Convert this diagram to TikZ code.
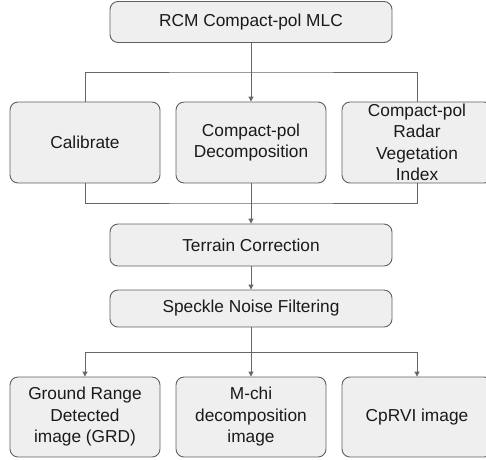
\documentclass[tikz,border=0pt]{standalone}
\usepackage{fontspec}
\setmainfont{Liberation Sans}
\usetikzlibrary{arrows.meta}
\definecolor{boxfill}{HTML}{EFEFEF}
\definecolor{boxline}{HTML}{5F5F5F}
\definecolor{conn}{HTML}{666666}
\definecolor{txt}{HTML}{1A1A1A}
\begin{document}
\begin{tikzpicture}[x=1pt,y=-1pt,
  box/.style={draw=boxline,fill=boxfill,line width=0.9pt,rounded corners=8pt,
    align=center,inner sep=0pt,text=txt,
    font=\fontsize{17.3}{21.5}\selectfont},
  wide/.style={box,minimum width=282pt},
  tall/.style={box,minimum width=150pt,minimum height=81pt},
  link/.style={draw=conn,line width=1pt},
  arr/.style={link,-{Triangle[length=5pt,width=5pt]}}]
\clip (0,0) rectangle (486,459);
\useasboundingbox (0,0) rectangle (486,459);

\node[wide,minimum height=41pt] (top) at (251,22) {RCM Compact-pol MLC};

\node[tall] (cal) at (85,142.5) {Calibrate};
\node[tall] (dec) at (251,142.5) {Compact-pol\\Decomposition};
\node[tall] (rvi) at (417,142.5) {\fontsize{17.3}{17.6}\selectfont Compact-pol\\Radar\\Vegetation\\Index};

\node[wide,minimum height=42pt] (ter) at (251,245) {Terrain Correction};
\node[wide,minimum height=37pt] (spk) at (251,308.5) {Speckle Noise Filtering};

\node[tall,minimum height=80pt] (grd) at (85,417) {Ground Range\\Detected\\image (GRD)};
\node[tall,minimum height=80pt] (mchi) at (251,417) {M-chi\\decomposition\\image};
\node[tall,minimum height=80pt] (cpr) at (417,417) {CpRVI image};

\coordinate (s1) at (251,72);
\coordinate (j1) at (251,203);
\coordinate (s2) at (251,352);

% top to middle row
\draw[arr] (top.south) -- (dec.north);
\draw[link] (cal.north) |- (s1) -| (rvi.north);

% middle row to terrain
\draw[link] (cal.south) |- (j1) -| (rvi.south);
\draw[link] (dec.south) -- (j1);
\draw[arr] (j1) -- (ter.north);

\draw[arr] (ter.south) -- (spk.north);

% speckle to outputs
\draw[link] (spk.south) -- (s2);
\draw[arr] (s2) -| (grd.north);
\draw[arr] (s2) -- (mchi.north);
\draw[arr] (s2) -| (cpr.north);
\end{tikzpicture}
\end{document}
